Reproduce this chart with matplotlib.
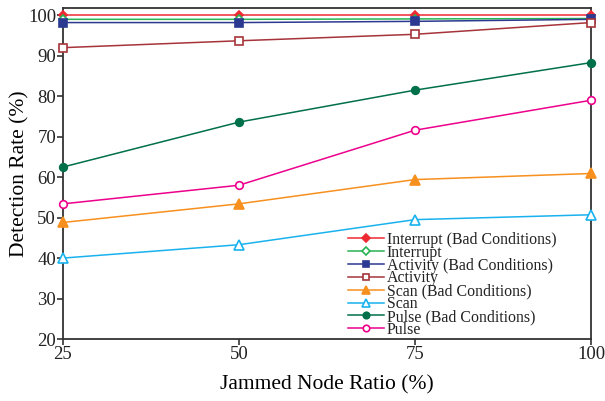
import matplotlib
matplotlib.use("Agg")
import matplotlib.pyplot as plt

# values
ratios = [25, 50, 75, 100]
interrupt_bad = [100.0, 100.0, 100.0, 100.0]
interrupt = [99.0, 99.0, 99.1, 99.2]
activity_bad = [98.2, 98.2, 98.5, 99.0]
activity = [92.0, 93.7, 95.3, 98.2]
scan_bad = [48.8, 53.4, 59.4, 60.9]
scan = [40.0, 43.3, 49.5, 50.7]
pulse_bad = [62.5, 73.6, 81.5, 88.3]
pulse = [53.4, 58.0, 71.6, 79.0]

plt.rcParams['font.family'] = ['Liberation Serif', 'DejaVu Serif']
plt.rcParams['text.color'] = '#222222'

fig = plt.figure(figsize=(6.05, 4.01), dpi=100)
ax = fig.add_axes([63 / 605, 1 - 339 / 401, (591 - 63) / 605, (339 - 8) / 401])

lw = 1.1
# label, values, colour, marker, filled, size
series = [
    ("Interrupt (Bad Conditions)", interrupt_bad, "#ed2a32", "D", True, 4.5),
    ("Interrupt", interrupt, "#27b352", "D", False, 4.5),
    ("Activity (Bad Conditions)", activity_bad, "#2b3990", "s", True, 5.5),
    ("Activity", activity, "#a6343a", "s", False, 5.5),
    ("Scan (Bad Conditions)", scan_bad, "#f7901e", "^", True, 6.5),
    ("Scan", scan, "#19b2ee", "^", False, 6.5),
    ("Pulse (Bad Conditions)", pulse_bad, "#00704a", "o", True, 5.5),
    ("Pulse", pulse, "#ec008c", "o", False, 5.5),
]

for label, vals, col, mk, filled, ms in series:
    ax.plot(ratios, vals, color=col, lw=lw, marker=mk, markersize=ms,
            markerfacecolor=col if filled else "white",
            markeredgecolor=col, markeredgewidth=1.2, label=label,
            clip_on=False, zorder=3)

ax.set_xlim(25, 100)
ax.set_ylim(20, 101.8)
ax.set_xticks(ratios)
ax.set_yticks(range(20, 101, 10))

for s in ax.spines.values():
    s.set_color("#333333")
    s.set_linewidth(1.3)
ax.tick_params(direction="out", length=4, width=1.2, color="#333333",
               labelsize=13.5, labelcolor="#222222", pad=1)

ax.set_xlabel("Jammed Node Ratio (%)", fontsize=15.5, labelpad=9)
ax.set_ylabel("Detection Rate (%)", fontsize=15.5, labelpad=-1)

ax.legend(loc="upper left", bbox_to_anchor=(348 / 605, 1 - 232 / 401),
          bbox_transform=fig.transFigure, frameon=False, fontsize=11.4,
          borderpad=0, labelspacing=-0.2, handlelength=2.3,
          handletextpad=0.15, borderaxespad=0, markerscale=0.85)

fig.savefig("out.png", dpi=100)
